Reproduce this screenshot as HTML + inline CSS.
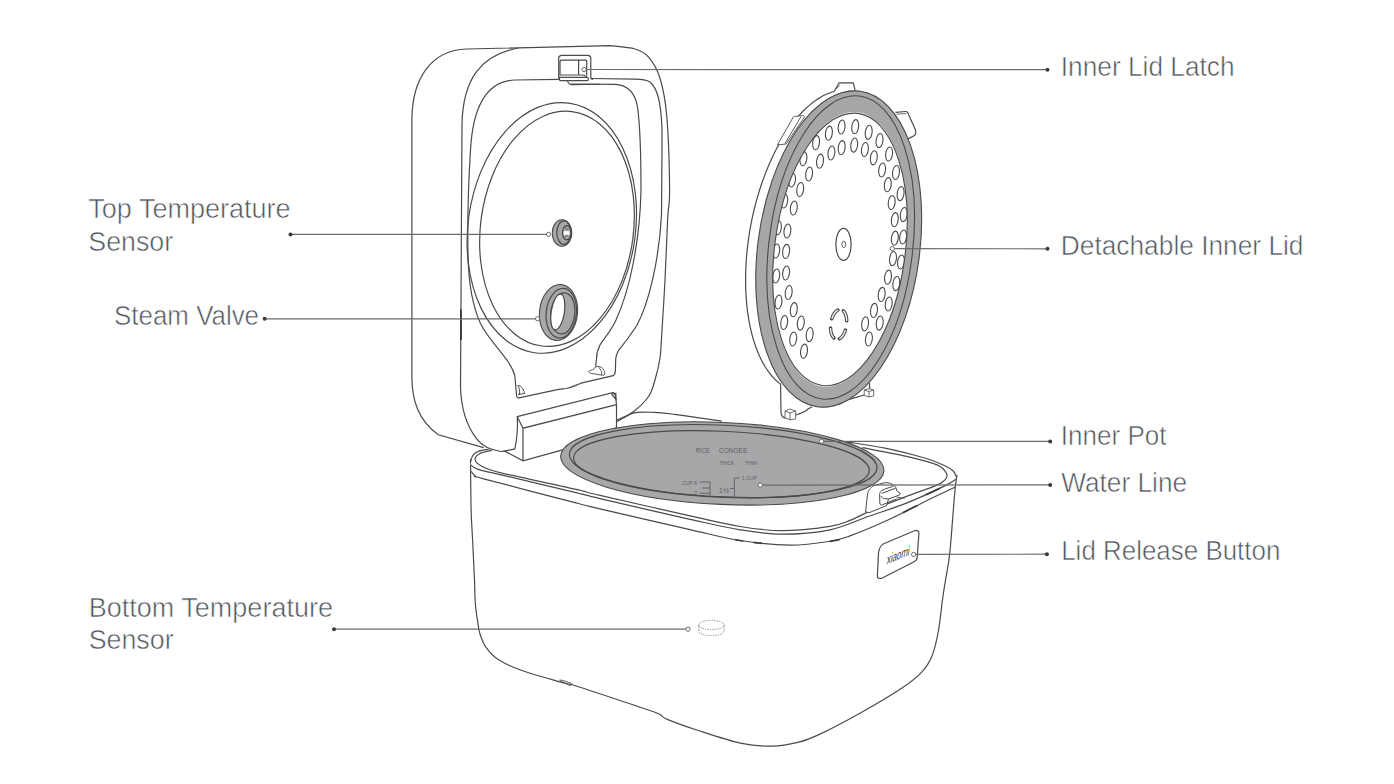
<!DOCTYPE html>
<html><head><meta charset="utf-8"><style>html,body{margin:0;padding:0;background:#fff;}svg{display:block}</style></head>
<body><svg width="1394" height="784" viewBox="0 0 1394 784">
<path d="M470.50,459.00 C470.60,467.50 470.75,496.50 471.10,510.00 C471.45,523.50 472.03,528.33 472.60,540.00 C473.17,551.67 474.05,569.50 474.50,580.00 C474.95,590.50 474.78,596.12 475.30,603.00 C475.82,609.88 476.83,616.20 477.60,621.30 C478.37,626.40 478.50,629.25 479.90,633.60 C481.30,637.95 482.93,643.07 486.00,647.40 C489.07,651.73 492.43,655.78 498.30,659.60 C504.17,663.42 511.00,666.60 521.20,670.30 C531.40,674.00 549.70,678.98 559.50,681.80 C569.30,684.62 566.58,682.97 580.00,687.20 C593.42,691.43 626.88,702.78 640.00,707.20 C653.12,711.62 654.15,711.67 658.70,713.70 C663.25,715.73 660.85,716.65 667.30,719.40 C673.75,722.15 685.22,726.25 697.40,730.20 C709.58,734.15 727.97,740.43 740.40,743.10 C752.83,745.77 762.43,746.32 772.00,746.20 C781.57,746.08 789.80,744.42 797.80,742.40 C805.80,740.38 809.50,739.05 820.00,734.10 C830.50,729.15 847.20,720.35 860.80,712.70 C874.40,705.05 891.40,695.02 901.60,688.20 C911.80,681.38 916.90,677.25 922.00,671.80 C927.10,666.35 929.47,662.30 932.20,655.50 C934.93,648.70 936.70,640.18 938.40,631.00 C940.10,621.82 941.22,608.90 942.40,600.40 C943.58,591.90 944.27,587.92 945.50,580.00 C946.73,572.08 948.27,567.37 949.80,552.90 C951.33,538.43 953.50,506.20 954.70,493.20 C955.90,480.20 956.62,477.95 957.00,474.90 L957,474.9 L470.5,459 Z" fill="#fff" stroke="none" stroke-width="1.2" />
<path d="M470.50,459.00 C470.60,467.50 470.75,496.50 471.10,510.00 C471.45,523.50 472.03,528.33 472.60,540.00 C473.17,551.67 474.05,569.50 474.50,580.00 C474.95,590.50 474.78,596.12 475.30,603.00 C475.82,609.88 476.83,616.20 477.60,621.30 C478.37,626.40 478.50,629.25 479.90,633.60 C481.30,637.95 482.93,643.07 486.00,647.40 C489.07,651.73 492.43,655.78 498.30,659.60 C504.17,663.42 511.00,666.60 521.20,670.30 C531.40,674.00 549.70,678.98 559.50,681.80 C569.30,684.62 566.58,682.97 580.00,687.20 C593.42,691.43 626.88,702.78 640.00,707.20 C653.12,711.62 654.15,711.67 658.70,713.70 C663.25,715.73 660.85,716.65 667.30,719.40 C673.75,722.15 685.22,726.25 697.40,730.20 C709.58,734.15 727.97,740.43 740.40,743.10 C752.83,745.77 762.43,746.32 772.00,746.20 C781.57,746.08 789.80,744.42 797.80,742.40 C805.80,740.38 809.50,739.05 820.00,734.10 C830.50,729.15 847.20,720.35 860.80,712.70 C874.40,705.05 891.40,695.02 901.60,688.20 C911.80,681.38 916.90,677.25 922.00,671.80 C927.10,666.35 929.47,662.30 932.20,655.50 C934.93,648.70 936.70,640.18 938.40,631.00 C940.10,621.82 941.22,608.90 942.40,600.40 C943.58,591.90 944.27,587.92 945.50,580.00 C946.73,572.08 948.27,567.37 949.80,552.90 C951.33,538.43 953.50,506.20 954.70,493.20 C955.90,480.20 956.62,477.95 957.00,474.90" fill="none" stroke="#4a4a4a" stroke-width="1.2" />
<path d="M559.6,680.3 C561,679.8 562,680 571.7,683.6 C572,684.8 571,685.6 569,685.2 Z" fill="none" stroke="#4a4a4a" stroke-width="0.9" />
<path d="M470.50,464.80 C471.75,465.57 472.93,467.73 478.00,469.40 C483.07,471.07 484.73,470.98 500.90,474.80 C517.07,478.62 558.48,488.33 575.00,492.30 C591.52,496.27 580.83,494.10 600.00,498.60 C619.17,503.10 666.67,514.10 690.00,519.30 C713.33,524.50 724.70,527.32 740.00,529.80 C755.30,532.28 766.80,534.20 781.80,534.20 C796.80,534.20 815.60,532.75 830.00,529.80 C844.40,526.85 855.45,520.95 868.20,516.50 C880.95,512.05 893.73,508.20 906.50,503.10 C919.27,498.00 936.40,490.00 944.80,485.90 C953.20,481.80 954.88,479.73 956.90,478.50 L957,475 956.90,478.00 C956.28,476.83 955.22,473.03 953.20,471.00 C951.18,468.97 949.40,467.93 944.80,465.80 C940.20,463.67 935.17,461.07 925.60,458.20 C916.03,455.33 900.58,451.33 887.40,448.60 C874.22,445.87 853.32,442.93 846.50,441.80 L721.8,421.2 L654.4,412.4 L617,421.2 L488,449.5 C480,449.5 472,452 470.5,464.8 Z" fill="#fff" stroke="none" stroke-width="1.2" />
<path d="M617.00,421.20 C619.80,419.82 627.57,414.37 633.80,412.90 C640.03,411.43 647.63,412.17 654.40,412.40 C661.17,412.63 668.65,413.63 674.40,414.30 C680.15,414.97 681.00,415.25 688.90,416.40 C696.80,417.55 716.32,420.40 721.80,421.20" fill="none" stroke="#4a4a4a" stroke-width="1.2" />
<path d="M470.6,463 C471,453 478,449.7 490,449.3" fill="none" stroke="#4a4a4a" stroke-width="1.2" />
<path d="M846.50,441.80 C853.32,442.93 874.22,445.87 887.40,448.60 C900.58,451.33 916.03,455.33 925.60,458.20 C935.17,461.07 940.20,463.67 944.80,465.80 C949.40,467.93 951.18,468.97 953.20,471.00 C955.22,473.03 956.28,476.83 956.90,478.00" fill="none" stroke="#4a4a4a" stroke-width="1.2" />
<path d="M470.50,464.80 C471.75,465.57 472.93,467.73 478.00,469.40 C483.07,471.07 484.73,470.98 500.90,474.80 C517.07,478.62 558.48,488.33 575.00,492.30 C591.52,496.27 580.83,494.10 600.00,498.60 C619.17,503.10 666.67,514.10 690.00,519.30 C713.33,524.50 724.70,527.32 740.00,529.80 C755.30,532.28 766.80,534.20 781.80,534.20 C796.80,534.20 815.60,532.75 830.00,529.80 C844.40,526.85 855.45,520.95 868.20,516.50 C880.95,512.05 893.73,508.20 906.50,503.10 C919.27,498.00 936.40,490.00 944.80,485.90 C953.20,481.80 954.88,479.73 956.90,478.50" fill="none" stroke="#4a4a4a" stroke-width="1.2" />
<path d="M491.70,450.40 C489.75,450.92 482.77,451.98 480.00,453.50 C477.23,455.02 474.87,457.42 475.10,459.50 C475.33,461.58 477.10,463.78 481.40,466.00 C485.70,468.22 485.30,468.93 500.90,472.80 C516.50,476.67 558.48,485.43 575.00,489.20 C591.52,492.97 580.83,490.97 600.00,495.40 C619.17,499.83 666.67,510.62 690.00,515.80 C713.33,520.98 724.70,524.02 740.00,526.50 C755.30,528.98 766.80,530.73 781.80,530.70 C796.80,530.67 818.63,528.02 830.00,526.30 C841.37,524.58 842.98,523.10 850.00,520.40 C857.02,517.70 862.57,514.15 872.10,510.10 C881.63,506.05 896.68,500.13 907.20,496.10 C917.72,492.07 928.95,488.55 935.20,485.90 C941.45,483.25 942.80,482.27 944.70,480.20 C946.60,478.13 947.88,476.05 946.60,473.50 C945.32,470.95 943.68,467.77 937.00,464.90 C930.32,462.03 918.95,459.17 906.50,456.30 C894.05,453.43 869.67,449.13 862.30,447.70" fill="none" stroke="#4a4a4a" stroke-width="1.2" />
<path d="M471.30,471.50 C472.08,472.33 473.93,475.28 476.00,476.50 C478.07,477.72 467.20,474.43 483.70,478.80 C500.20,483.17 555.62,497.70 575.00,502.70 C594.38,507.70 580.83,504.32 600.00,508.80 C619.17,513.28 666.67,524.32 690.00,529.60 C713.33,534.88 723.35,537.92 740.00,540.50 C756.65,543.08 774.90,544.97 789.90,545.10 C804.90,545.23 819.98,542.83 830.00,541.30 C840.02,539.77 840.43,539.40 850.00,535.90 C859.57,532.40 874.80,526.08 887.40,520.30 C900.00,514.52 914.25,506.75 925.60,501.20 C936.95,495.65 950.52,489.37 955.50,487.00" fill="none" stroke="#4a4a4a" stroke-width="1.2" />
<path d="M925.89,494.76 L927.29,494.12 L928.67,493.50 L930.03,492.87 L931.37,492.26 L932.68,491.65 L933.97,491.05 L935.24,490.46 L936.47,489.88 L937.66,489.32 L938.82,488.77 L939.93,488.24" fill="none" stroke="#3a3a3a" stroke-width="1.7" />
<path d="M903.02,512.68 L904.34,512.01 L905.66,511.33 L906.97,510.66 L908.28,509.99 L909.58,509.32 L910.88,508.66 L912.17,507.99 L913.45,507.33 L914.72,506.68 L915.99,506.03 L917.24,505.39" fill="none" stroke="#3a3a3a" stroke-width="1.7" />
<path d="M830.00,541.30 L830.97,541.15 L831.88,541.01 L832.74,540.87 L833.54,540.74 L834.30,540.61 L835.01,540.49 L835.68,540.36 L836.32,540.24 L836.93,540.12 L837.51,540.00 L838.07,539.87 L838.61,539.74 L839.14,539.61 L839.66,539.48" fill="none" stroke="#3a3a3a" stroke-width="1.7" />
<path d="M735.18,539.71 L736.75,539.98 L738.36,540.24 L740.00,540.50 L741.67,540.76 L743.35,541.01" fill="none" stroke="#3a3a3a" stroke-width="1.7" />
<path d="M753.57,542.40 L755.29,542.61 L757.00,542.81 L758.72,543.01 L760.44,543.20 L762.15,543.38" fill="none" stroke="#3a3a3a" stroke-width="1.7" />
<path d="M411.9,377 L411.9,120 C412,80 430,50 467,49 L622,45.5 C650,46 664,70 667,110 L669.5,190 L663,330 L660,358 C656,385 645,403 633.3,411.8 C628,416 622,419 617,421.4 L616.5,427.6 L523,460.9 L504.6,451.1 L500.9,451 C495,451 488,450 483.7,447.6 L438.3,434.8 C418,420 412,400 411.9,377 Z" fill="#fff" stroke="none" stroke-width="1.2" />
<path d="M483.7,447.6 L438.3,434.8 C418,420 412,400 411.9,377 L411.9,120 C412,80 430,50 467,49 L610,45.7  C614.17,46.25 628.57,47.08 635.00,49.00 C641.43,50.92 644.43,52.32 648.60,57.20 C652.77,62.08 656.97,68.42 660.00,78.30 C663.03,88.18 665.20,97.88 666.80,116.50 C668.40,135.12 669.45,173.08 669.60,190.00 C669.75,206.92 668.47,203.00 667.70,218.00 C666.93,233.00 665.95,261.33 665.00,280.00 C664.05,298.67 662.83,317.00 662.00,330.00 C661.17,343.00 661.17,349.67 660.00,358.00 C658.83,366.33 656.90,373.58 655.00,380.00 C653.10,386.42 652.22,391.20 648.60,396.50 C644.98,401.80 638.57,407.65 633.30,411.80 C628.03,415.95 619.72,419.80 617.00,421.40" fill="none" stroke="#4a4a4a" stroke-width="1.2" />
<path d="M518.6,48 C480,55 463,80 462,124 L460.5,387 C461,405 466,425 476.5,438.6 C482,446 490,450 501,451.5 L513.6,450.5" fill="none" stroke="#4a4a4a" stroke-width="1.2" />
<path d="M461,309.4 L461,340" fill="none" stroke="#333" stroke-width="1.7" />
<path d="M558.7,79.3 L515,80 C488,81 473,105 470.5,150 C468,190 467.5,230 468,255 C468.5,280 472,305 480.5,323.5 C490,343 510,358 514.8,375.5 L516.7,396.5 C517,398 518,398 519,397.8 L555,390.1 C560,389 562,389 566,388.5 C572,387.5 576,385 581,383.2 L613.2,375.7 C614.5,375 615,374 615.4,370.6 L615.7,359 C616,355 618,352 618.3,350.8 L626.6,340 C631,334 634,330 637,325 C649,303 659,260 661.5,215 L662,150 L662,130 C661,100 657,88 650,82 C646,79.5 640,79.2 635,79.2 L591.2,78.5" fill="none" stroke="#4a4a4a" stroke-width="1.2" />
<path d="M570.2,84 L615,84.4 C628,85 635,92 637.5,107 C640,125 641,160 641,190 C640,240 630,290 616,320 C610,333 604,338 600,345 C597.5,350 596.6,354 596.6,358 L595.6,366.8" fill="none" stroke="#4a4a4a" stroke-width="1.2" />
<path d="M595.6,366.8 C594,370 591,370.4 589.5,370.6 C588,371 588.2,372.5 590.8,373.2 L601,375.1 C603,375.5 605,375 604.8,373 C604.5,369.5 602,367 599,366.6 C597.5,366.5 596.5,366.6 595.6,366.8 M598.5,367.2 C601,369 602,372 601.8,375" fill="none" stroke="#4a4a4a" stroke-width="0.9" />
<path d="M517.6,385.5 C520.5,385 523.5,388.5 524.6,393.5 L518,394.6 M519.5,394.3 C519.8,390.5 519.5,388 518,386" fill="none" stroke="#4a4a4a" stroke-width="1.0" />
<ellipse cx="551.8" cy="227.9" rx="83.75" ry="126.0" transform="rotate(7.8 551.8 227.9)" fill="none" stroke="#4a4a4a" stroke-width="1.2"/>
<ellipse cx="557.0" cy="228.8" rx="76.5" ry="118.2" transform="rotate(7.4 557.0 228.8)" fill="none" stroke="#4a4a4a" stroke-width="1.2"/>
<path d="M558.7,79.3 L558.7,58.5 C558.7,56.5 559.8,55.4 562,55.4 L587.8,55.4 C589.8,55.4 590.8,56.5 590.8,58.5 L590.8,77.8 C590.8,79 591.5,79.3 593,79.3" fill="#fff" stroke="#4a4a4a" stroke-width="1.2" />
<path d="M560,75.5 L560,62 C560,60.8 560.8,60.2 562,60.2 L585.5,60.2 C586.3,60.2 586.7,60.8 586.7,61.5 L586.7,75.5 M578.6,60.2 L578.6,75 M560,75 L582,75 C584,75 585,76 587,76.5" fill="none" stroke="#4a4a4a" stroke-width="1.2" />
<path d="M559.4,77.3 L587.3,77.3 C588,77.3 588.3,77.8 588.3,78.5 L588.3,79.8 C588.3,80.3 588,80.6 587.3,80.6 L560.5,80.6 C559.8,80.6 559.4,80.2 559.4,79.6 Z" fill="#fff" stroke="#4a4a4a" stroke-width="1.2" />
<path d="M567.3,80.6 C568,82.5 569,84.5 571.4,84.6 L600,84.3" fill="none" stroke="#4a4a4a" stroke-width="1.1" />
<ellipse cx="562" cy="233" rx="9.7" ry="13.3" transform="rotate(0 562 233)" fill="#a7a7a9" stroke="#4a4a4a" stroke-width="1.1"/>
<ellipse cx="563.9" cy="232.6" rx="7.1" ry="11.7" transform="rotate(0 563.9 232.6)" fill="#a7a7a9" stroke="#4a4a4a" stroke-width="1.2"/>
<ellipse cx="566.7" cy="232.8" rx="4.2" ry="7.1" transform="rotate(0 566.7 232.8)" fill="#a7a7a9" stroke="#4a4a4a" stroke-width="1.2"/>
<rect x="563.7" y="231.1" width="5.7" height="3.8" fill="#fff"/>
<path d="M564,227 L568,230 M564.5,237 L568,235" fill="none" stroke="#4a4a4a" stroke-width="0.7" />
<ellipse cx="558.5" cy="312.5" rx="19" ry="28" transform="rotate(6 558.5 312.5)" fill="#a7a7a9" stroke="#4a4a4a" stroke-width="1.1"/>
<ellipse cx="561.3" cy="313.2" rx="15.1" ry="24.9" transform="rotate(6 561.3 313.2)" fill="#a7a7a9" stroke="#4a4a4a" stroke-width="1.2"/>
<ellipse cx="562.8" cy="313.4" rx="12.0" ry="20.6" transform="rotate(6 562.8 313.4)" fill="#a7a7a9" stroke="#4a4a4a" stroke-width="1.2"/>
<ellipse cx="557.8" cy="312.0" rx="6.6" ry="18.0" transform="rotate(9 557.8 312.0)" fill="#fff" stroke="#4a4a4a" stroke-width="1.2"/>
<path d="M517.2,416.7 L613.6,392.4 L615.3,394.9 L616.5,404.7 L616.5,427.6 L564.3,449.4 L523,460.9 L504.6,451.1 L514.9,448.9 C517,440 518,425 517.2,416.7 Z" fill="#fff" stroke="#4a4a4a" stroke-width="1.2" />
<path d="M517.2,416.7 L523,428.2 L616.5,404.7 M523,428.2 L523,460.9 M611.5,394 L615.8,393.4 L616,399.5 Z" fill="none" stroke="#4a4a4a" stroke-width="1.2" />
<path d="M616.5,420.2 L633.1,412.7" fill="none" stroke="#4a4a4a" stroke-width="1.2" />
<ellipse cx="722.3" cy="463.4" rx="161.8" ry="41.0" transform="rotate(2.6 722.3 463.4)" fill="#a7a7a9" stroke="#4a4a4a" stroke-width="1.1"/>
<ellipse cx="723.2" cy="461.1" rx="154.0" ry="35.9" transform="rotate(2.6 723.2 461.1)" fill="none" stroke="#4a4a4a" stroke-width="1.2"/>
<ellipse cx="721.4" cy="464.2" rx="148.0" ry="33.0" transform="rotate(2.5 721.4 464.2)" fill="none" stroke="#4a4a4a" stroke-width="1.2"/>
<g font-family="Liberation Sans" fill="#5e5e60">
<text x="695.8" y="453" font-size="8" textLength="14" lengthAdjust="spacingAndGlyphs">RICE</text>
<text x="719" y="453" font-size="8" textLength="28.3" lengthAdjust="spacingAndGlyphs">CONGEE</text>
<text x="719.5" y="464.5" font-size="5.5" textLength="14.9" lengthAdjust="spacingAndGlyphs">THICK</text>
<text x="744.7" y="464.5" font-size="5.5" textLength="12.3" lengthAdjust="spacingAndGlyphs">THIN</text>
<text x="682" y="484.6" font-size="5.5" textLength="14.8" lengthAdjust="spacingAndGlyphs">CUP 8</text>
<text x="694" y="495" font-size="5.5">2</text>
<text x="719" y="493" font-size="7">1½</text>
<text x="742" y="480" font-size="5.5" textLength="15" lengthAdjust="spacingAndGlyphs">1 CUP</text>
</g>
<path d="M699.6,482 L710,482 L710,495.5 M702,488 L710,488 M699.6,493.3 L710,493.3 M729.9,488.4 L734.4,488.4 M734.4,497.5 L734.4,478 L739.5,478" fill="none" stroke="#555" stroke-width="0.8" />
<path d="M865.6,511.7 L866.6,502 L867.7,493.3 C868.5,490.5 869.5,489.2 870.2,488.7 C872,486.5 873.5,485.6 875.3,485.1 L884.5,482.8 C887,482.4 889,482.8 890.6,483.6 C893,484.3 895,486 895.7,487.2 C896.3,488.5 896.6,489.7 896.7,490.8 L900.3,493.3 L899.3,495.1 L888.6,498.9 L886.5,505.6 L869.2,512.7 Z" fill="#fff" stroke="#4a4a4a" stroke-width="1.0" />
<path d="M879.9,504 L879.6,494.8 C879.8,492.5 880.5,491.5 881.4,490.8 C883.5,489.5 886,488.6 888.1,488 L893,486.3 M880.9,495.9 C882,497.5 883,498.5 884,498.7 L888.6,498.9 M879.9,504 C880.5,505 881.5,505.2 882.5,504.8 L896.8,498.8 M881.9,493.3 L895.7,488.2 M896.8,497 C900,498 903,498.2 905,497.9" fill="none" stroke="#4a4a4a" stroke-width="1.0" />
<path d="M878.5,553 C879,547 881,544.5 886,542.8 L914.5,530.8 C917.5,529.6 919.3,531.5 918.9,534.3 L917.1,557.8 C917,559.8 915.8,561 913.6,562 L882.3,578 C879.2,579.3 877.3,578 877.4,575.4 Z" fill="none" stroke="#4a4a4a" stroke-width="1.2" />
<text x="0" y="0" font-family="Liberation Sans" font-size="11" fill="#3a3a3a" transform="matrix(0.927,-0.375,-0.2,1.25,897.6,559.8)" text-anchor="middle" textLength="24.5" lengthAdjust="spacingAndGlyphs">xiaomi</text>
<path d="M834.12,91.45 L831.49,92.24 L828.86,93.19 L826.22,94.30 L823.58,95.58 L820.94,97.02 L818.30,98.62 L815.67,100.38 L813.05,102.30 L810.45,104.38 L807.86,106.60 L805.29,108.98 L802.74,111.50 L800.21,114.17 L797.72,116.97 L795.25,119.92 L792.82,123.00 L790.42,126.22 L788.06,129.56 L785.74,133.03 L783.46,136.62 L781.23,140.32 L779.05,144.14 L776.92,148.06 L774.84,152.09 L772.82,156.22 L770.85,160.44 L768.95,164.76 L767.10,169.16 L765.32,173.63 L763.61,178.19 L761.97,182.81 L760.39,187.50 L758.89,192.25 L757.46,197.06 L756.11,201.91 L754.83,206.81 L753.63,211.74 L752.51,216.71 L751.47,221.71 L750.51,226.73 L749.63,231.76 L748.84,236.81 L748.13,241.86 L747.51,246.91 L746.97,251.95 L746.52,256.98 L746.16,261.99 L745.88,266.98 L745.69,271.95 L745.59,276.87 L745.58,281.76 L745.66,286.61 L745.82,291.40 L746.08,296.14 L746.42,300.81 L746.84,305.42 L747.36,309.96 L747.96,314.42 L748.64,318.80 L749.41,323.10 L750.27,327.30 L751.20,331.40 L752.22,335.41 L753.32,339.31 L754.50,343.11 L755.76,346.78 L757.09,350.35 L758.50,353.79 L759.99,357.10 L761.54,360.29 L763.17,363.34 L764.86,366.26 L766.62,369.03 L768.45,371.67 L770.34,374.16 L772.29,376.50 L774.29,378.69 L776.36,380.73 L778.47,382.62 L780.64,384.34" fill="none" stroke="#4a4a4a" stroke-width="1.2" />
<path d="M780.64,384.34 C780.6,392 780.8,402 781,412 C781.2,416 783,418 786,418 L795.7,415 C801,413.5 805,412 808,409 L812.1,406.7" fill="none" stroke="#4a4a4a" stroke-width="1.2" />
<path d="M849.7,399.4 C856,397.5 860,396 864.2,395 M869.5,388.7 L869.5,383" fill="none" stroke="#4a4a4a" stroke-width="1.2" />
<path d="M834.1,91.5 L839.1,82.8 L853.2,82.8 L855.1,89.8" fill="#fff" stroke="#4a4a4a" stroke-width="1.2" />
<path d="M836.3,89 L839.6,85" fill="none" stroke="#4a4a4a" stroke-width="0.8" />
<path d="M895.5,112.4 L905.5,111.5 C906.5,111.4 907.2,111.8 907.7,112.6 L915.5,130 C916,131.5 915.8,134.5 914.5,135.5 L908,138.9" fill="#fff" stroke="#4a4a4a" stroke-width="1.2" />
<path d="M896.5,114.2 L906,113.5" fill="none" stroke="#4a4a4a" stroke-width="0.8" />
<path d="M777.5,144.7 L792.8,117.9 C793.5,116.5 794.5,116.2 795.1,116.4 L802.8,115.6 C804,115.8 804.5,116.5 804.3,117.2 L786,144 L779,144.7 Z M801,116.6 L785,143.5" fill="#fff" stroke="#4a4a4a" stroke-width="0.9" />
<path d="M785,411 L790,409 L795.7,411 L795.7,418.9 L790,419.8 L785,418 Z M785,411 L790,413 L795.7,411 M790,413 L790,419.8" fill="#fff" stroke="#4a4a4a" stroke-width="0.8" />
<path d="M864.2,390 L869,388.7 L873.7,390 L873.7,396 L869,396.9 L864.2,395.5 Z M864.2,390 L869,391.5 L873.7,390 M869,391.5 L869,396.9" fill="#fff" stroke="#4a4a4a" stroke-width="0.8" />
<ellipse cx="838.7" cy="249.0" rx="80.9" ry="159.2" transform="rotate(7.7 838.7 249.0)" fill="#fff" stroke="none" stroke-width="1.2"/>
<ellipse cx="816.1" cy="142.7" rx="3.4" ry="7.1" transform="rotate(7 816.1 142.7)" fill="none" stroke="#4a4a4a" stroke-width="1.1"/>
<ellipse cx="803.4" cy="158.7" rx="3.4" ry="7.1" transform="rotate(7 803.4 158.7)" fill="none" stroke="#4a4a4a" stroke-width="1.1"/>
<ellipse cx="792" cy="180" rx="3.4" ry="7.1" transform="rotate(7 792 180)" fill="none" stroke="#4a4a4a" stroke-width="1.1"/>
<ellipse cx="784.2" cy="201" rx="3.4" ry="7.1" transform="rotate(7 784.2 201)" fill="none" stroke="#4a4a4a" stroke-width="1.1"/>
<ellipse cx="777.9" cy="227.8" rx="3.4" ry="7.1" transform="rotate(7 777.9 227.8)" fill="none" stroke="#4a4a4a" stroke-width="1.1"/>
<ellipse cx="776.2" cy="251" rx="3.4" ry="7.1" transform="rotate(7 776.2 251)" fill="none" stroke="#4a4a4a" stroke-width="1.1"/>
<ellipse cx="776.2" cy="276" rx="3.4" ry="7.1" transform="rotate(7 776.2 276)" fill="none" stroke="#4a4a4a" stroke-width="1.1"/>
<ellipse cx="778.5" cy="302" rx="3.4" ry="7.1" transform="rotate(7 778.5 302)" fill="none" stroke="#4a4a4a" stroke-width="1.1"/>
<ellipse cx="784.2" cy="322.5" rx="3.4" ry="7.1" transform="rotate(7 784.2 322.5)" fill="none" stroke="#4a4a4a" stroke-width="1.1"/>
<ellipse cx="793.2" cy="339" rx="3.4" ry="7.1" transform="rotate(7 793.2 339)" fill="none" stroke="#4a4a4a" stroke-width="1.1"/>
<ellipse cx="804" cy="351.2" rx="3.4" ry="7.1" transform="rotate(7 804 351.2)" fill="none" stroke="#4a4a4a" stroke-width="1.1"/>
<ellipse cx="828.9" cy="133.2" rx="3.4" ry="7.1" transform="rotate(7 828.9 133.2)" fill="none" stroke="#4a4a4a" stroke-width="1.1"/>
<ellipse cx="841.6" cy="127" rx="3.4" ry="7.1" transform="rotate(7 841.6 127)" fill="none" stroke="#4a4a4a" stroke-width="1.1"/>
<ellipse cx="855.2" cy="126.7" rx="3.4" ry="7.1" transform="rotate(7 855.2 126.7)" fill="none" stroke="#4a4a4a" stroke-width="1.1"/>
<ellipse cx="868.7" cy="132.3" rx="3.4" ry="7.1" transform="rotate(7 868.7 132.3)" fill="none" stroke="#4a4a4a" stroke-width="1.1"/>
<ellipse cx="879.5" cy="140.6" rx="3.4" ry="7.1" transform="rotate(7 879.5 140.6)" fill="none" stroke="#4a4a4a" stroke-width="1.1"/>
<ellipse cx="889.1" cy="154" rx="3.4" ry="7.1" transform="rotate(7 889.1 154)" fill="none" stroke="#4a4a4a" stroke-width="1.1"/>
<ellipse cx="896" cy="172.5" rx="3.4" ry="7.1" transform="rotate(7 896 172.5)" fill="none" stroke="#4a4a4a" stroke-width="1.1"/>
<ellipse cx="900.6" cy="193.6" rx="3.4" ry="7.1" transform="rotate(7 900.6 193.6)" fill="none" stroke="#4a4a4a" stroke-width="1.1"/>
<ellipse cx="903.8" cy="214.6" rx="3.4" ry="7.1" transform="rotate(7 903.8 214.6)" fill="none" stroke="#4a4a4a" stroke-width="1.1"/>
<ellipse cx="903.1" cy="237" rx="3.4" ry="7.1" transform="rotate(7 903.1 237)" fill="none" stroke="#4a4a4a" stroke-width="1.1"/>
<ellipse cx="901" cy="262" rx="3.4" ry="7.1" transform="rotate(7 901 262)" fill="none" stroke="#4a4a4a" stroke-width="1.1"/>
<ellipse cx="896.3" cy="283.6" rx="3.4" ry="7.1" transform="rotate(7 896.3 283.6)" fill="none" stroke="#4a4a4a" stroke-width="1.1"/>
<ellipse cx="888.7" cy="304" rx="3.4" ry="7.1" transform="rotate(7 888.7 304)" fill="none" stroke="#4a4a4a" stroke-width="1.1"/>
<ellipse cx="879.7" cy="323.1" rx="3.4" ry="7.1" transform="rotate(7 879.7 323.1)" fill="none" stroke="#4a4a4a" stroke-width="1.1"/>
<ellipse cx="868.9" cy="339" rx="3.4" ry="7.1" transform="rotate(7 868.9 339)" fill="none" stroke="#4a4a4a" stroke-width="1.1"/>
<ellipse cx="820" cy="161.2" rx="3.4" ry="7.1" transform="rotate(7 820 161.2)" fill="none" stroke="#4a4a4a" stroke-width="1.1"/>
<ellipse cx="809.1" cy="174" rx="3.4" ry="7.1" transform="rotate(7 809.1 174)" fill="none" stroke="#4a4a4a" stroke-width="1.1"/>
<ellipse cx="800.2" cy="189.5" rx="3.4" ry="7.1" transform="rotate(7 800.2 189.5)" fill="none" stroke="#4a4a4a" stroke-width="1.1"/>
<ellipse cx="793.8" cy="208" rx="3.4" ry="7.1" transform="rotate(7 793.8 208)" fill="none" stroke="#4a4a4a" stroke-width="1.1"/>
<ellipse cx="787.4" cy="231" rx="3.4" ry="7.1" transform="rotate(7 787.4 231)" fill="none" stroke="#4a4a4a" stroke-width="1.1"/>
<ellipse cx="786.1" cy="251.4" rx="3.4" ry="7.1" transform="rotate(7 786.1 251.4)" fill="none" stroke="#4a4a4a" stroke-width="1.1"/>
<ellipse cx="786.1" cy="273" rx="3.4" ry="7.1" transform="rotate(7 786.1 273)" fill="none" stroke="#4a4a4a" stroke-width="1.1"/>
<ellipse cx="788.7" cy="292.5" rx="3.4" ry="7.1" transform="rotate(7 788.7 292.5)" fill="none" stroke="#4a4a4a" stroke-width="1.1"/>
<ellipse cx="793.8" cy="309.7" rx="3.4" ry="7.1" transform="rotate(7 793.8 309.7)" fill="none" stroke="#4a4a4a" stroke-width="1.1"/>
<ellipse cx="800.8" cy="323.1" rx="3.4" ry="7.1" transform="rotate(7 800.8 323.1)" fill="none" stroke="#4a4a4a" stroke-width="1.1"/>
<ellipse cx="809.7" cy="334.6" rx="3.4" ry="7.1" transform="rotate(7 809.7 334.6)" fill="none" stroke="#4a4a4a" stroke-width="1.1"/>
<ellipse cx="831.4" cy="153" rx="3.4" ry="7.1" transform="rotate(7 831.4 153)" fill="none" stroke="#4a4a4a" stroke-width="1.1"/>
<ellipse cx="841.7" cy="147.7" rx="3.4" ry="7.1" transform="rotate(7 841.7 147.7)" fill="none" stroke="#4a4a4a" stroke-width="1.1"/>
<ellipse cx="854.2" cy="145.1" rx="3.4" ry="7.1" transform="rotate(7 854.2 145.1)" fill="none" stroke="#4a4a4a" stroke-width="1.1"/>
<ellipse cx="864.9" cy="149.5" rx="3.4" ry="7.1" transform="rotate(7 864.9 149.5)" fill="none" stroke="#4a4a4a" stroke-width="1.1"/>
<ellipse cx="873.8" cy="157.8" rx="3.4" ry="7.1" transform="rotate(7 873.8 157.8)" fill="none" stroke="#4a4a4a" stroke-width="1.1"/>
<ellipse cx="882.1" cy="170" rx="3.4" ry="7.1" transform="rotate(7 882.1 170)" fill="none" stroke="#4a4a4a" stroke-width="1.1"/>
<ellipse cx="887.8" cy="184.7" rx="3.4" ry="7.1" transform="rotate(7 887.8 184.7)" fill="none" stroke="#4a4a4a" stroke-width="1.1"/>
<ellipse cx="891.7" cy="202.5" rx="3.4" ry="7.1" transform="rotate(7 891.7 202.5)" fill="none" stroke="#4a4a4a" stroke-width="1.1"/>
<ellipse cx="894.8" cy="219.7" rx="3.4" ry="7.1" transform="rotate(7 894.8 219.7)" fill="none" stroke="#4a4a4a" stroke-width="1.1"/>
<ellipse cx="894.8" cy="238.2" rx="3.4" ry="7.1" transform="rotate(7 894.8 238.2)" fill="none" stroke="#4a4a4a" stroke-width="1.1"/>
<ellipse cx="893" cy="258.6" rx="3.4" ry="7.1" transform="rotate(7 893 258.6)" fill="none" stroke="#4a4a4a" stroke-width="1.1"/>
<ellipse cx="888" cy="277.2" rx="3.4" ry="7.1" transform="rotate(7 888 277.2)" fill="none" stroke="#4a4a4a" stroke-width="1.1"/>
<ellipse cx="881.7" cy="294.4" rx="3.4" ry="7.1" transform="rotate(7 881.7 294.4)" fill="none" stroke="#4a4a4a" stroke-width="1.1"/>
<ellipse cx="874" cy="310.4" rx="3.4" ry="7.1" transform="rotate(7 874 310.4)" fill="none" stroke="#4a4a4a" stroke-width="1.1"/>
<ellipse cx="865.1" cy="323.8" rx="3.4" ry="7.1" transform="rotate(7 865.1 323.8)" fill="none" stroke="#4a4a4a" stroke-width="1.1"/>
<path fill-rule="evenodd" fill="#a7a7a9" stroke="none" d="M918.87,259.84 A80.9,159.2 7.7 1 1 758.53,238.16 A80.9,159.2 7.7 1 1 918.87,259.84 Z M904.74,257.92 A65.3,137.2 7.5 1 1 775.26,240.88 A65.3,137.2 7.5 1 1 904.74,257.92 Z"/>
<ellipse cx="838.7" cy="249.0" rx="80.9" ry="159.2" transform="rotate(7.7 838.7 249.0)" fill="none" stroke="#4a4a4a" stroke-width="1.1"/>
<ellipse cx="840.7" cy="247.5" rx="71.9" ry="152.6" transform="rotate(7.0 840.7 247.5)" fill="none" stroke="#4a4a4a" stroke-width="1.1"/>
<ellipse cx="840.0" cy="249.4" rx="65.3" ry="137.2" transform="rotate(7.5 840.0 249.4)" fill="none" stroke="#4a4a4a" stroke-width="1.1"/>
<ellipse cx="843.5" cy="244.4" rx="7.65" ry="16" transform="rotate(0 843.5 244.4)" fill="none" stroke="#4a4a4a" stroke-width="1.2"/>
<ellipse cx="843.8" cy="244.4" rx="1.9" ry="3.2" transform="rotate(0 843.8 244.4)" fill="none" stroke="#4a4a4a" stroke-width="0.9"/>
<path d="M843.24,310.82 L843.61,311.19 L843.96,311.60 L844.29,312.05 L844.61,312.54 L844.91,313.07 L845.19,313.64 L845.44,314.24 L845.68,314.87 L845.89,315.54 L846.08,316.23 L846.24,316.95 L846.38,317.69 L846.50,318.46 L846.58,319.24 L846.65,320.04 L846.69,320.86" fill="none" stroke="#4a4a4a" stroke-width="3.5" stroke-linecap="round" stroke-linejoin="round"/>
<path d="M843.24,310.82 L843.61,311.19 L843.96,311.60 L844.29,312.05 L844.61,312.54 L844.91,313.07 L845.19,313.64 L845.44,314.24 L845.68,314.87 L845.89,315.54 L846.08,316.23 L846.24,316.95 L846.38,317.69 L846.50,318.46 L846.58,319.24 L846.65,320.04 L846.69,320.86" fill="none" stroke="#fff" stroke-width="1.3" stroke-linecap="butt"/>
<path d="M845.40,330.04 L845.13,330.81 L844.85,331.56 L844.55,332.29 L844.23,332.99 L843.89,333.67 L843.54,334.31 L843.16,334.93 L842.78,335.51 L842.38,336.05 L841.97,336.56 L841.54,337.03 L841.11,337.46 L840.67,337.84 L840.22,338.18 L839.77,338.48 L839.31,338.73" fill="none" stroke="#4a4a4a" stroke-width="3.5" stroke-linecap="round" stroke-linejoin="round"/>
<path d="M845.40,330.04 L845.13,330.81 L844.85,331.56 L844.55,332.29 L844.23,332.99 L843.89,333.67 L843.54,334.31 L843.16,334.93 L842.78,335.51 L842.38,336.05 L841.97,336.56 L841.54,337.03 L841.11,337.46 L840.67,337.84 L840.22,338.18 L839.77,338.48 L839.31,338.73" fill="none" stroke="#fff" stroke-width="1.3" stroke-linecap="butt"/>
<path d="M833.96,337.98 L833.59,337.61 L833.24,337.20 L832.91,336.75 L832.59,336.26 L832.29,335.73 L832.01,335.16 L831.76,334.56 L831.52,333.93 L831.31,333.26 L831.12,332.57 L830.96,331.85 L830.82,331.11 L830.70,330.34 L830.62,329.56 L830.55,328.76 L830.51,327.94" fill="none" stroke="#4a4a4a" stroke-width="3.5" stroke-linecap="round" stroke-linejoin="round"/>
<path d="M833.96,337.98 L833.59,337.61 L833.24,337.20 L832.91,336.75 L832.59,336.26 L832.29,335.73 L832.01,335.16 L831.76,334.56 L831.52,333.93 L831.31,333.26 L831.12,332.57 L830.96,331.85 L830.82,331.11 L830.70,330.34 L830.62,329.56 L830.55,328.76 L830.51,327.94" fill="none" stroke="#fff" stroke-width="1.3" stroke-linecap="butt"/>
<path d="M831.80,318.76 L832.07,317.99 L832.35,317.24 L832.65,316.51 L832.97,315.81 L833.31,315.13 L833.66,314.49 L834.04,313.87 L834.42,313.29 L834.82,312.75 L835.23,312.24 L835.66,311.77 L836.09,311.34 L836.53,310.96 L836.98,310.62 L837.43,310.32 L837.89,310.07" fill="none" stroke="#4a4a4a" stroke-width="3.5" stroke-linecap="round" stroke-linejoin="round"/>
<path d="M831.80,318.76 L832.07,317.99 L832.35,317.24 L832.65,316.51 L832.97,315.81 L833.31,315.13 L833.66,314.49 L834.04,313.87 L834.42,313.29 L834.82,312.75 L835.23,312.24 L835.66,311.77 L836.09,311.34 L836.53,310.96 L836.98,310.62 L837.43,310.32 L837.89,310.07" fill="none" stroke="#fff" stroke-width="1.3" stroke-linecap="butt"/>
<line x1="586.1" y1="69.5" x2="1047.5" y2="69.7" stroke="#6a6a6a" stroke-width="1.2"/>
<circle cx="584" cy="69.5" r="2.1" fill="#fff" stroke="#6a6a6a" stroke-width="1"/>
<circle cx="1047.5" cy="69.7" r="2" fill="#3c3c3c"/>
<line x1="290.5" y1="234.4" x2="546.4" y2="234.4" stroke="#6a6a6a" stroke-width="1.2"/>
<circle cx="290.5" cy="234.4" r="2" fill="#3c3c3c"/>
<circle cx="548.5" cy="234.4" r="2.1" fill="#fff" stroke="#6a6a6a" stroke-width="1"/>
<line x1="264.7" y1="318.8" x2="535.4" y2="318.8" stroke="#6a6a6a" stroke-width="1.2"/>
<circle cx="264.7" cy="318.8" r="2" fill="#3c3c3c"/>
<circle cx="537.5" cy="318.8" r="2.1" fill="#fff" stroke="#6a6a6a" stroke-width="1"/>
<line x1="894.4" y1="248.6" x2="1047.5" y2="248.8" stroke="#6a6a6a" stroke-width="1.2"/>
<circle cx="892.3" cy="248.6" r="2.1" fill="#fff" stroke="#6a6a6a" stroke-width="1"/>
<circle cx="1047.5" cy="248.8" r="2" fill="#3c3c3c"/>
<line x1="823.6" y1="441.3" x2="1050.2" y2="441.4" stroke="#6a6a6a" stroke-width="1.2"/>
<circle cx="821.5" cy="441.3" r="2.1" fill="#fff" stroke="#6a6a6a" stroke-width="1"/>
<circle cx="1050.2" cy="441.4" r="2" fill="#3c3c3c"/>
<line x1="762.3000000000001" y1="485.1" x2="1050.2" y2="484.9" stroke="#6a6a6a" stroke-width="1.2"/>
<circle cx="760.2" cy="485.1" r="2.1" fill="#fff" stroke="#6a6a6a" stroke-width="1"/>
<circle cx="1050.2" cy="484.9" r="2" fill="#3c3c3c"/>
<line x1="915.7" y1="554.4" x2="1046.9" y2="554.2" stroke="#6a6a6a" stroke-width="1.2"/>
<circle cx="913.6" cy="554.4" r="2.1" fill="#fff" stroke="#6a6a6a" stroke-width="1"/>
<circle cx="1046.9" cy="554.2" r="2" fill="#3c3c3c"/>
<line x1="334" y1="629.2" x2="685.9" y2="629.2" stroke="#6a6a6a" stroke-width="1.2"/>
<circle cx="334" cy="629.2" r="2" fill="#3c3c3c"/>
<circle cx="688" cy="629.2" r="2.1" fill="#fff" stroke="#6a6a6a" stroke-width="1"/>
<g fill="none" stroke="#777" stroke-width="0.9" stroke-dasharray="1.2 1.2">
<ellipse cx="711.4" cy="625" rx="12.7" ry="4.6"/>
<path d="M698.7,625 L698.7,631 A12.7,4.6 0 0 0 724.1,631 L724.1,625"/>
</g>
<g font-family="Liberation Sans" font-size="26.8" fill="#50555c" stroke="#fff" stroke-width="0.55"><text x="88.3" y="218.1" textLength="202.3" lengthAdjust="spacingAndGlyphs">Top Temperature</text><text x="88.3" y="250.6">Sensor</text><text x="114.10000000000001" y="325.29999999999995" textLength="144.9" lengthAdjust="spacingAndGlyphs">Steam Valve</text><text x="88.7" y="616.6" textLength="244.3" lengthAdjust="spacingAndGlyphs">Bottom Temperature</text><text x="88.7" y="648.6999999999999">Sensor</text><text x="1060.8" y="76.10000000000001" textLength="173.8" lengthAdjust="spacingAndGlyphs">Inner Lid Latch</text><text x="1060.8" y="255.3" textLength="242.70000000000002" lengthAdjust="spacingAndGlyphs">Detachable Inner Lid</text><text x="1060.8" y="445.2" textLength="105.7" lengthAdjust="spacingAndGlyphs">Inner Pot</text><text x="1061.2" y="492.4" textLength="125.89999999999999" lengthAdjust="spacingAndGlyphs">Water Line</text><text x="1061.2" y="560.1" textLength="219.20000000000002" lengthAdjust="spacingAndGlyphs">Lid Release Button</text></g>
</svg></body></html>
